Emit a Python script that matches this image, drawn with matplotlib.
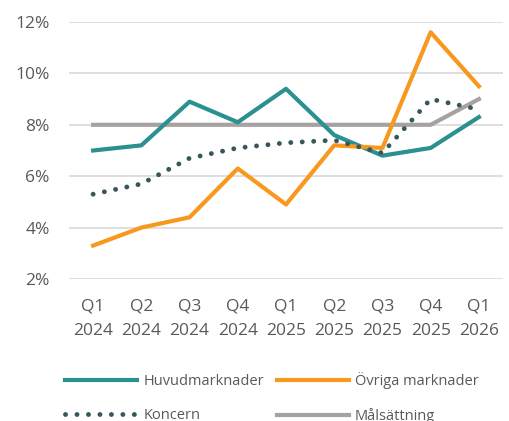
import matplotlib.pyplot as plt
import numpy as np

# data
quarters = ["Q1\n2024", "Q2\n2024", "Q3\n2024", "Q4\n2024", "Q1\n2025",
            "Q2\n2025", "Q3\n2025", "Q4\n2025", "Q1\n2026"]
huvud = [7.0, 7.2, 8.9, 8.1, 9.4, 7.6, 6.8, 7.1, 8.3]
ovriga = [3.3, 4.0, 4.4, 6.3, 4.9, 7.2, 7.1, 11.6, 9.5]
koncern = [5.3, 5.7, 6.7, 7.1, 7.3, 7.4, 6.9, 9.0, 8.6]
mal = [8, 8, 8, 8, 8, 8, 8, 8, 9]
yticks = [2, 4, 6, 8, 10, 12]

plt.rcParams['font.family'] = ['Open Sans', 'DejaVu Sans']
txt = '#595959'

fig = plt.figure(figsize=(5.10, 4.21), dpi=100)
ax = fig.add_axes([69/510, 1-279/421, 434/510, 257/421])

x = np.arange(len(quarters))
l1, = ax.plot(x, huvud, color='#2a9090', lw=3, label='Huvudmarknader', zorder=3)
l2, = ax.plot(x, ovriga, color='#f7981f', lw=3, label='Övriga marknader', zorder=3)
l4, = ax.plot(x, mal, color='#a6a2a2', lw=3, label='Målsättning', zorder=2)
l3, = ax.plot(x, koncern, color='#37585b', lw=3.5, linestyle=(0, (0.01, 2.35)),
              dash_capstyle='round', label='Koncern', zorder=4)

ax.set_xlim(-0.5, len(quarters) - 0.5)
ax.set_ylim(2, 12)
ax.set_yticks(yticks)
ax.set_yticklabels([f"{v}%" for v in yticks])
ax.set_xticks(x)
ax.set_xticklabels(quarters, linespacing=1.75)
ax.grid(axis='y', color='#d9d9d9', lw=1.2)
ax.set_axisbelow(True)
for s in ax.spines.values():
    s.set_visible(False)
ax.tick_params(length=0, labelsize=12.5, colors=txt)
ax.tick_params(axis='x', pad=14)
ax.tick_params(axis='y', pad=14)

# legend filled column-wise, so order gives rows: Huvud/Övriga, Koncern/Mål
fig.legend(handles=[l1, l3, l2, l4], ncol=2, frameon=False,
           loc='upper left', bbox_to_anchor=(58/510, 1-365/421),
           fontsize=10.5, handlelength=4.9, handletextpad=0.45,
           columnspacing=0.9, labelspacing=1.3, borderpad=0,
           labelcolor=txt)

fig.savefig('out.png', dpi=100)
